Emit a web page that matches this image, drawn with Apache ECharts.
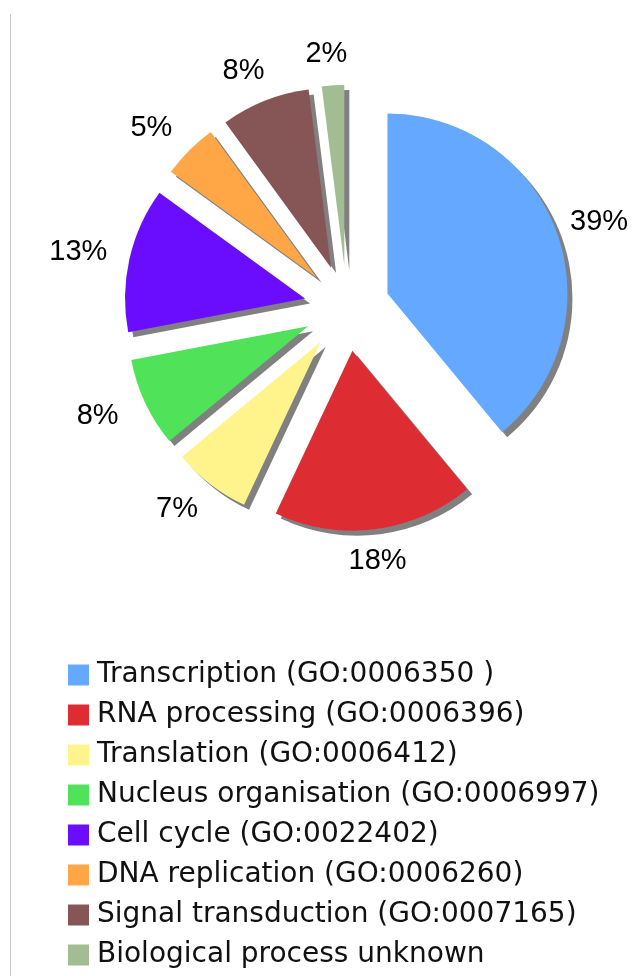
<!DOCTYPE html>
<html>
<head>
<meta charset="utf-8">
<script src="https://cdn.jsdelivr.net/npm/echarts@6/dist/echarts.min.js"></script>
<style>html,body{margin:0;padding:0;background:#fff;}#c{width:640px;height:976px;}</style>
</head>
<body>
<div id="c"></div>
<script>
const categories = [
  'Transcription (GO:0006350 )',
  'RNA processing (GO:0006396)',
  'Translation (GO:0006412)',
  'Nucleus organisation (GO:0006997)',
  'Cell cycle (GO:0022402)',
  'DNA replication (GO:0006260)',
  'Signal transduction (GO:0007165)',
  'Biological process unknown'
];
const values = [39, 18, 7, 8, 13, 5, 8, 2];
const colors = ['#64A8FF', '#DE2C33', '#FFF48C', '#50E35A', '#6A0DFF', '#FFA646', '#865556', '#A3BD92'];

// label ring: centred labels on an ellipse around the pie
const LABEL_CENTER = [343.5, 308];
const LABEL_R = 260;
const SX = 268.6 / LABEL_R, SY = 251.8 / LABEL_R;

const chart = echarts.init(document.getElementById('c'), null, {renderer: 'canvas'});
const data = categories.map((name, i) => ({
  name: name, value: values[i], selected: true,
  itemStyle: {color: colors[i]}
}));
const labelData = categories.map((name, i) => ({name: name, value: values[i]}));

chart.setOption({
  animation: false,
  color: colors,
  graphic: [{
    type: 'line', shape: {x1: 10.5, y1: 14, x2: 10.5, y2: 976},
    style: {stroke: '#c8c8c8', lineWidth: 1}
  }],
  legend: {
    orient: 'vertical', left: 68, top: 661, padding: 0,
    itemWidth: 21, itemHeight: 21, itemGap: 12, icon: 'rect',
    selectedMode: false,
    textStyle: {fontSize: 28, fontFamily: 'DejaVu Sans', color: '#111', padding: [0, 0, 0, 3]},
    data: categories
  },
  series: [{
    type: 'pie',
    center: [347, 308],
    radius: 180,
    startAngle: 90,
    clockwise: true,
    selectedMode: 'multiple',
    selectedOffset: 43,
    itemStyle: {shadowColor: '#808080', shadowBlur: 0, shadowOffsetX: 5, shadowOffsetY: 5},
    emphasis: {disabled: true},
    label: {show: false},
    labelLine: {show: false},
    data: data
  }, {
    type: 'pie',
    silent: true,
    center: LABEL_CENTER,
    radius: [LABEL_R - 10, LABEL_R + 10],
    startAngle: 90,
    clockwise: true,
    avoidLabelOverlap: false,
    itemStyle: {color: 'rgba(0,0,0,0)', borderWidth: 0},
    emphasis: {disabled: true},
    label: {
      show: true, position: 'inside', formatter: '{d}%',
      fontSize: 29, fontFamily: 'Liberation Sans', color: '#000'
    },
    labelLine: {show: false},
    labelLayout: function (p) {
      const r = p.labelRect;
      const x0 = r.x + r.width / 2, y0 = r.y + r.height / 2;
      return {
        x: LABEL_CENTER[0] + (x0 - LABEL_CENTER[0]) * SX,
        y: LABEL_CENTER[1] + (y0 - LABEL_CENTER[1]) * SY,
        align: 'center', verticalAlign: 'middle'
      };
    },
    data: labelData
  }]
});
</script>
</body>
</html>
